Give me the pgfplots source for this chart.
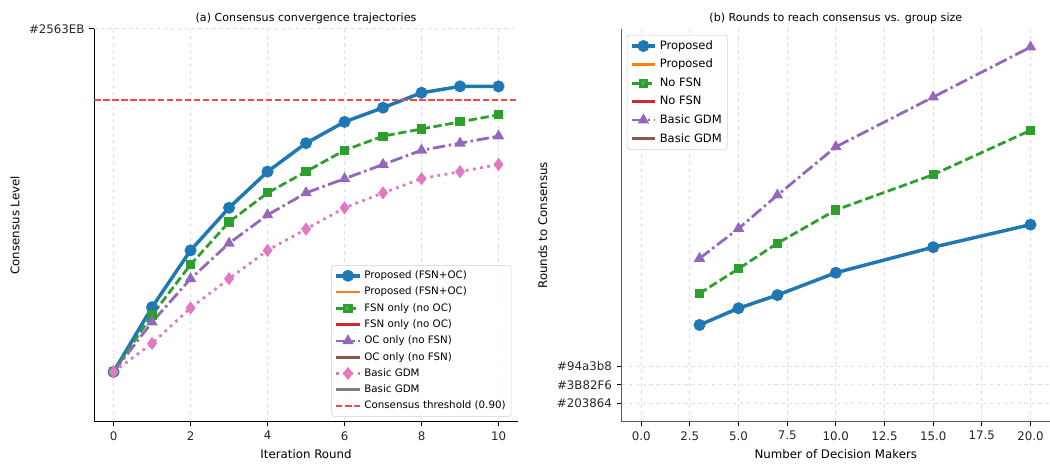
\documentclass[border=0pt]{standalone}
\usepackage{fontspec}
\setmainfont{DejaVu Sans}
\usepackage{pgfplots}
\pgfplotsset{compat=1.18}

\definecolor{cblue}{HTML}{1F77B4}
\definecolor{corange}{HTML}{FF7F0E}
\definecolor{cgreen}{HTML}{2CA02C}
\definecolor{cred}{HTML}{D62728}
\definecolor{cpurple}{HTML}{9467BD}
\definecolor{cbrown}{HTML}{8C564B}
\definecolor{cpink}{HTML}{E377C2}
\definecolor{cgray}{HTML}{7F7F7F}
\definecolor{thresh}{HTML}{F04A4A}

\pgfplotsset{
  panel/.style={
    scale only axis,
    anchor=south west,
    height=282.7pt,
    axis x line*=bottom,
    axis y line*=left,
    axis line style={-, line width=0.8pt},
    tick align=outside,
    major tick length=3.5pt,
    tick style={line width=0.8pt, black},
    grid=major,
    grid style={dash pattern=on 2.5pt off 2.5pt, black!12, line width=0.6pt},
    tick label style={font=\fontsize{8.5}{10}\selectfont, text=black!85},
    label style={font=\fontsize{8.5}{10}\selectfont},
    title style={font=\fontsize{8}{9.5}\selectfont, at={(0.5,1)}, anchor=base, yshift=-0.5pt},
    /pgf/number format/assume math mode=true,
    legend cell align=left,
  },
  lproposed/.style={cblue, line width=2.5pt, mark=*, mark size=3pt, mark options={solid}},
  lfsn/.style={cgreen, line width=2pt, dash pattern=on 6pt off 2.6pt, mark=square*, mark size=2.3pt, mark options={solid}},
  loc/.style={cpurple, line width=2pt, dash pattern=on 9pt off 2.6pt on 1.8pt off 2.6pt, mark=triangle*, mark size=2.8pt, mark options={solid}},
  lbasic/.style={cpink, line width=2pt, dash pattern=on 2pt off 3.2pt, mark=diamond*, mark size=3.1pt, mark options={solid}},
}

\begin{document}
\begin{tikzpicture}
\useasboundingbox (0,0) rectangle (756pt,334pt);

\begin{axis}[
  panel,
  at={(67.9pt,30.5pt)},
  width=304.9pt,
  title={(a) Consensus convergence trajectories},
  xlabel={Iteration Round},
  ylabel={Consensus Level},
  xmin=-0.5, xmax=10.5,
  xtick={0,2,4,6,8,10},
  ymin=0.447, ymax=1.0,
  ytick={1},
  yticklabels={\#2563EB},
  legend style={at={(0.985,0.012)}, anchor=south east,
    font=\fontsize{7.4}{8.5}\selectfont, draw=black!18, rounded corners=2pt,
    fill=white, fill opacity=0.8, text opacity=1, inner sep=2pt, row sep=0.6pt},
]
\addplot[lproposed] coordinates {
  (0,0.517) (1,0.608) (2,0.688) (3,0.748) (4,0.799) (5,0.839)
  (6,0.869) (7,0.889) (8,0.910) (9,0.919) (10,0.919)
};
\addlegendentry{Proposed (FSN+OC)}
\addlegendimage{corange, line width=2pt}
\addlegendentry{Proposed (FSN+OC)}
\addplot[lfsn] coordinates {
  (0,0.517) (1,0.597) (2,0.668) (3,0.728) (4,0.769) (5,0.799)
  (6,0.829) (7,0.849) (8,0.859) (9,0.869) (10,0.879)
};
\addlegendentry{FSN only (no OC)}
\addlegendimage{cred, line width=2pt}
\addlegendentry{FSN only (no OC)}
\addplot[loc] coordinates {
  (0,0.517) (1,0.587) (2,0.648) (3,0.698) (4,0.738) (5,0.769)
  (6,0.789) (7,0.809) (8,0.829) (9,0.839) (10,0.849)
};
\addlegendentry{OC only (no FSN)}
\addlegendimage{cbrown, line width=2pt}
\addlegendentry{OC only (no FSN)}
\addplot[lbasic] coordinates {
  (0,0.517) (1,0.557) (2,0.607) (3,0.648) (4,0.688) (5,0.718)
  (6,0.748) (7,0.769) (8,0.789) (9,0.799) (10,0.809)
};
\addlegendentry{Basic GDM}
\addlegendimage{cgray, line width=2pt}
\addlegendentry{Basic GDM}
\addplot[thresh, line width=1.5pt, dash pattern=on 4.5pt off 2pt] coordinates {(-0.5,0.9) (10.5,0.9)};
\addlegendentry{Consensus threshold (0.90)}
\end{axis}

\begin{axis}[
  panel,
  at={(447.6pt,30.5pt)},
  width=308.4pt,
  axis line style={black!65},
  title={(b) Rounds to reach consensus vs. group size},
  xlabel={Number of Decision Makers},
  ylabel={Rounds to Consensus},
  xmin=-1, xmax=21,
  xtick={0,2.5,5,7.5,10,12.5,15,17.5,20},
  xticklabel style={/pgf/number format/.cd, fixed, fixed zerofill, precision=1},
  ymin=-0.95, ymax=19.95,
  ytick={0,1,2},
  yticklabels={\#203864,\#3B82F6,\#94a3b8},
  legend style={at={(0.012,0.985)}, anchor=north west,
    font=\fontsize{8.3}{9.5}\selectfont, draw=black!18, rounded corners=2pt,
    fill=white, fill opacity=0.8, text opacity=1, inner sep=2pt, row sep=1.6pt},
]
\addplot[lproposed] coordinates {
  (3,4.19) (5,5.08) (7,5.78) (10,6.97) (15,8.33) (20,9.53)
};
\addlegendentry{Proposed}
\addlegendimage{corange, line width=2pt}
\addlegendentry{Proposed}
\addplot[lfsn] coordinates {
  (3,5.87) (5,7.18) (7,8.54) (10,10.31) (15,12.19) (20,14.55)
};
\addlegendentry{No FSN}
\addlegendimage{cred, line width=2pt}
\addlegendentry{No FSN}
\addplot[loc] coordinates {
  (3,7.73) (5,9.32) (7,11.10) (10,13.67) (15,16.32) (20,18.98)
};
\addlegendentry{Basic GDM}
\addlegendimage{cbrown, line width=2pt}
\addlegendentry{Basic GDM}
\end{axis}
\end{tikzpicture}
\end{document}
